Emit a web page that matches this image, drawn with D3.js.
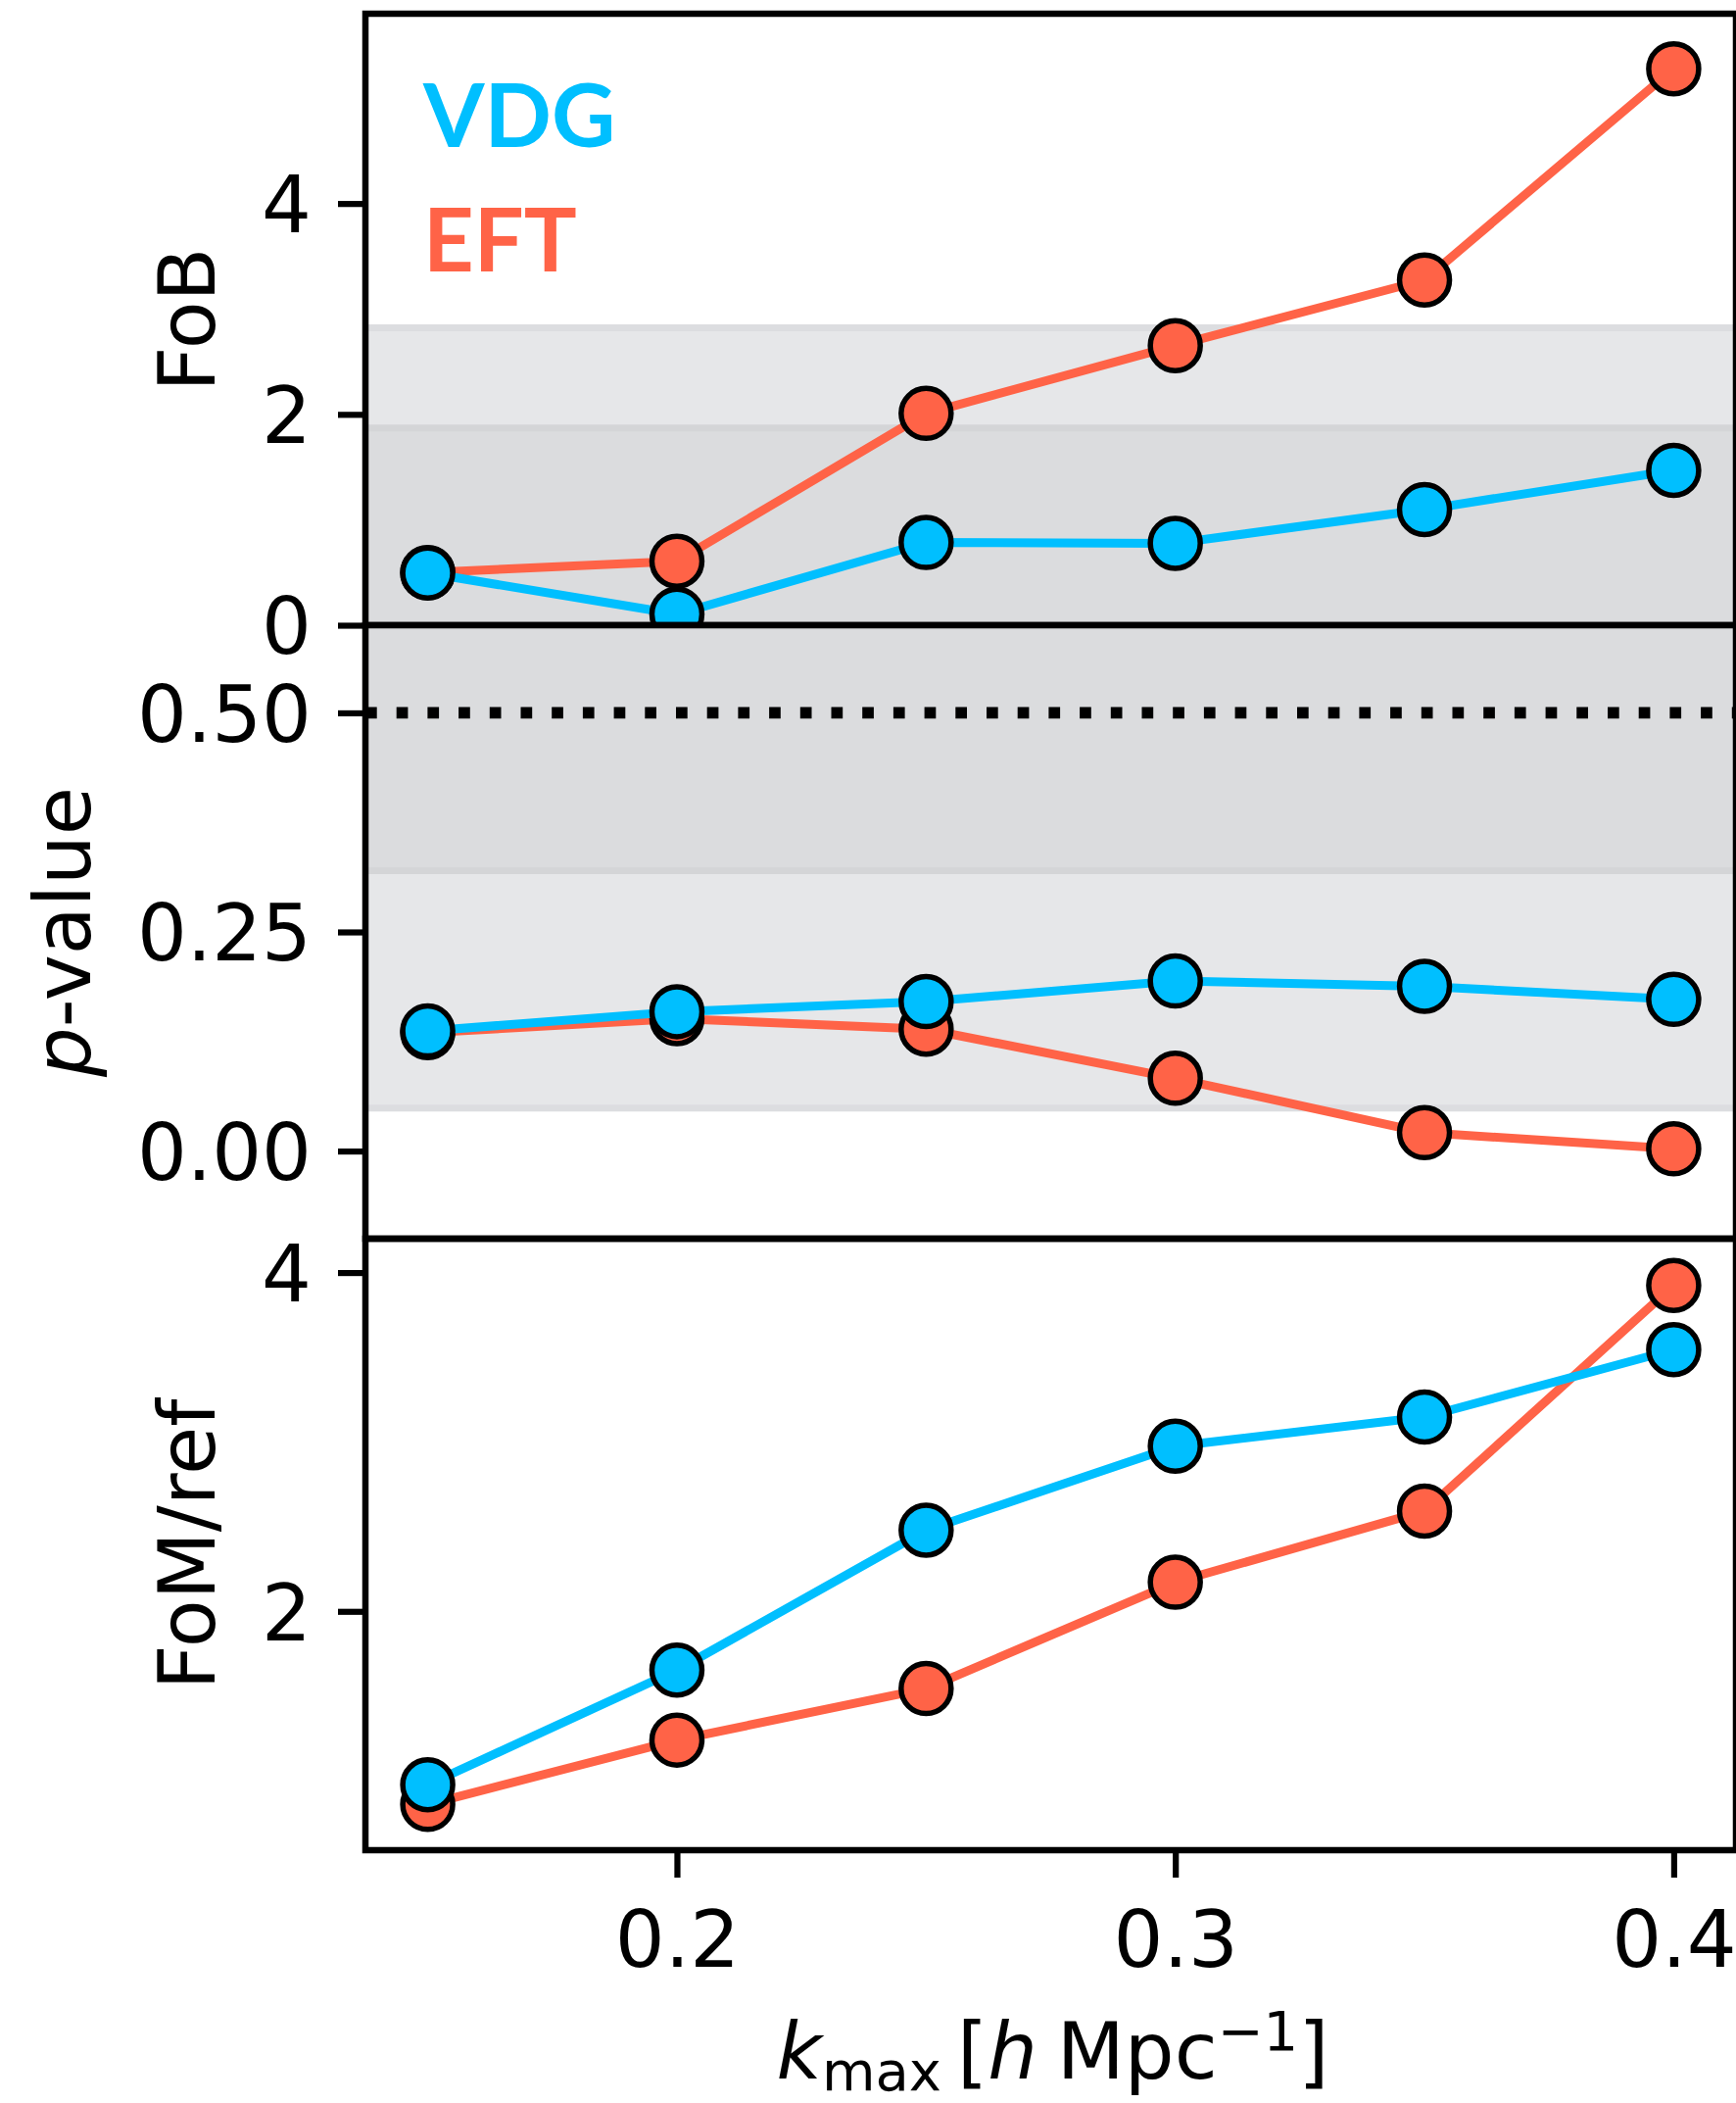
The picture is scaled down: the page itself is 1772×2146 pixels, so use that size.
<!DOCTYPE html>
<html>
<head>
<meta charset="utf-8">
<script src="https://cdnjs.cloudflare.com/ajax/libs/d3/7.8.5/d3.min.js"></script>
<style>
  body { margin: 0; background: #fff; }
  svg { display: block; }
  text { font-family: "DejaVu Sans", sans-serif; fill: #000; }
</style>
</head>
<body>
<div id="chart"></div>
<script>
// data
var kmax = [0.15, 0.2, 0.25, 0.3, 0.35, 0.4];
var kTicks = [0.2, 0.3, 0.4];

var fobVDG = [0.495, 0.105, 0.785, 0.777, 1.097, 1.469];
var fobEFT = [0.5, 0.607, 2.009, 2.652, 3.274, 5.278];
var fobTicks = [0, 2, 4];
var fobBands = [1.87, 2.82];

var pVDG = [0.137, 0.159, 0.1705, 0.194, 0.188, 0.173];
var pEFT = [0.135, 0.151, 0.139, 0.083, 0.021, 0.0025];
var pTicks = [0, 0.25, 0.5];
var pBands = [0.049, 0.32];
var pRef = 0.5;

var fomVDG = [0.976, 1.653, 2.479, 2.975, 3.147, 3.545];
var fomEFT = [0.86, 1.24, 1.544, 2.172, 2.592, 3.924];
var fomTicks = [2, 4];

var seriesNames = ["VDG", "EFT"];
var seriesColors = {"VDG": "#00bfff", "EFT": "#ff6347"};

var W = 1772, H = 2146;
var left = 373, right = 1772;

var svg = d3.select("#chart").append("svg")
    .attr("width", W)
    .attr("height", H);

var x = d3.scaleLinear().domain([0.1375, 0.4125]).range([left, right]);

var panels = [
    {id: "fob", top: 14, bottom: 638, domain: [0, 5.8], ticks: fobTicks, fmt: d3.format("d"),
     vdg: fobVDG, eft: fobEFT, bands: fobBands, bandMode: "below", label: "FoB", labelX: 219},
    {id: "pval", top: 638, bottom: 1264, domain: [-0.1, 0.6], ticks: pTicks, fmt: d3.format(".2f"),
     vdg: pVDG, eft: pEFT, bands: pBands, bandMode: "above", label: "p-value", labelX: 92},
    {id: "fom", top: 1264, bottom: 1888, domain: [0.59, 4.2], ticks: fomTicks, fmt: d3.format("d"),
     vdg: fomVDG, eft: fomEFT, bands: null, label: "FoM/ref", labelX: 219}
];

var lightFill = "#e6e7e9", darkFill = "#dbdcde";

panels.forEach(function(p, i) {
    var y = d3.scaleLinear().domain(p.domain).range([p.bottom, p.top]);
    var g = svg.append("g").attr("class", "panel-" + p.id);

    g.append("clipPath").attr("id", "clip-" + p.id)
        .append("rect")
        .attr("x", left).attr("y", p.top)
        .attr("width", right - left).attr("height", p.bottom - p.top);

    var plot = g.append("g").attr("clip-path", "url(#clip-" + p.id + ")");

    //shaded confidence bands
    if (p.bands) {
        var lo = p.bands[0], hi = p.bands[1];
        var yMin = p.domain[0], yMax = p.domain[1];
        var light, dark;
        if (p.bandMode === "below") {
            light = [lo, hi]; dark = [yMin, lo];
        } else {
            light = [lo, hi]; dark = [hi, yMax];
        }
        plot.append("rect")
            .attr("x", left).attr("width", right - left)
            .attr("y", y(light[1])).attr("height", y(light[0]) - y(light[1]))
            .style("fill", lightFill);
        plot.append("rect")
            .attr("x", left).attr("width", right - left)
            .attr("y", y(dark[1])).attr("height", y(dark[0]) - y(dark[1]))
            .style("fill", darkFill);
        // band edges
        p.bands.forEach(function(b, j) {
            plot.append("line")
                .attr("x1", left).attr("x2", right)
                .attr("y1", y(b)).attr("y2", y(b))
                .style("stroke", (p.bandMode === "below" ? j === 0 : j === 1) ? "#d4d5d7" : "#dcdde0")
                .style("stroke-width", 7);
        });
    }

    if (p.id === "pval") {
        plot.append("line")
            .attr("x1", left).attr("x2", right)
            .attr("y1", y(pRef)).attr("y2", y(pRef))
            .style("stroke", "#000")
            .style("stroke-width", 11.7)
            .style("stroke-dasharray", "11.7,20");
    }

    var line = d3.line()
        .x(function(d) { return x(d[0]); })
        .y(function(d) { return y(d[1]); });

    // EFT first, VDG drawn on top
    [["EFT", p.eft], ["VDG", p.vdg]].forEach(function(s) {
        var pts = kmax.map(function(k, idx) { return [k, s[1][idx]]; });
        var sg = plot.append("g");
        sg.append("path")
            .datum(pts)
            .attr("d", line)
            .style("fill", "none")
            .style("stroke", seriesColors[s[0]])
            .style("stroke-width", 9)
            .style("stroke-linejoin", "round");
        sg.selectAll("circle")
            .data(pts)
            .enter()
            .append("circle")
            .attr("cx", function(d) { return x(d[0]); })
            .attr("cy", function(d) { return y(d[1]); })
            .attr("r", 25.5)
            .style("fill", seriesColors[s[0]])
            .style("stroke", "#000")
            .style("stroke-width", 5.5);
    });

    //y axis
    var yAxis = d3.axisLeft(y).tickValues(p.ticks).tickFormat(p.fmt)
        .tickSize(28).tickPadding(10);
    var ya = g.append("g").attr("transform", "translate(" + left + ",0)").call(yAxis);
    ya.select(".domain").remove();
    ya.selectAll(".tick line").style("stroke", "#000").style("stroke-width", 6.2);
    ya.selectAll(".tick text")
        .attr("x", -55)
        .attr("dy", "0.36em")
        .style("font-size", "80px")
        .style("font-family", "DejaVu Sans");

    //frame
    g.append("rect")
        .attr("x", left).attr("y", p.top)
        .attr("width", right - left).attr("height", p.bottom - p.top)
        .style("fill", "none")
        .style("stroke", "#000")
        .style("stroke-width", 6.5);

    //y label
    var lab = g.append("text")
        .attr("transform", "translate(" + p.labelX + "," + ((p.top + p.bottom) / 2) + ") rotate(-90)")
        .attr("text-anchor", "middle")
        .style("font-size", "80px");
    if (p.id === "pval") {
        lab.append("tspan").style("font-style", "italic").text("p");
        lab.append("tspan").text("-value");
    } else {
        lab.text(p.label);
    }

    //x axis on the bottom panel only
    if (i === panels.length - 1) {
        var xAxis = d3.axisBottom(x).tickValues(kTicks).tickFormat(d3.format(".1f"))
            .tickSize(28).tickPadding(10);
        var xa = g.append("g").attr("transform", "translate(0," + p.bottom + ")").call(xAxis);
        xa.select(".domain").remove();
        xa.selectAll(".tick line").style("stroke", "#000").style("stroke-width", 6.2);
        xa.selectAll(".tick text")
            .attr("y", 0).attr("dy", 0)
            .attr("transform", "translate(0,119)")
            .style("font-size", "80px")
            .style("font-family", "DejaVu Sans");
    }
});

//x label: k_max [h Mpc^-1]
var xl = svg.append("text")
    .attr("x", (left + right) / 2 + 2)
    .attr("y", 2121)
    .attr("text-anchor", "middle")
    .style("font-size", "80px");
xl.append("tspan").style("font-style", "italic").text("k");
xl.append("tspan").attr("dy", 12).style("font-size", "56px").text("max");
xl.append("tspan").attr("dy", -12).text("\u2009[");
xl.append("tspan").style("font-style", "italic").text("h");
xl.append("tspan").text("\u2005Mpc");
xl.append("tspan").attr("dy", -29).style("font-size", "56px").text("\u22121");
xl.append("tspan").attr("dy", 29).text("]");

//legend text
var legendY = [150, 277];
seriesNames.forEach(function(name, i) {
    svg.append("text")
        .attr("x", 432)
        .attr("y", legendY[i])
        .style("font-family", "Lato, 'Open Sans', sans-serif")
        .style("font-weight", 700)
        .style("font-size", "90px")
        .style("fill", seriesColors[name])
        .text(name);
});
</script>
</body>
</html>
